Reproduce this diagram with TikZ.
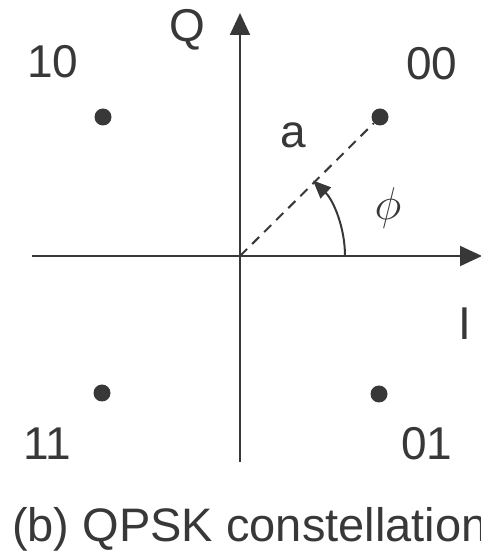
\RequirePackage{fix-cm}
\documentclass[tikz,border=0pt]{standalone}
\usepackage{fontspec}
\setmainfont{Liberation Sans}
\usetikzlibrary{arrows.meta}
\definecolor{ink}{HTML}{383838}
\tikzset{
  axis/.style={draw=ink, line width=2pt, -{Triangle[length=22pt,width=20pt]}},
  dot/.style={circle, fill=ink, inner sep=0pt, minimum size=17pt},
  lbl/.style={text=ink, inner sep=0pt, font=\fontsize{46}{50}\selectfont},
  radius line/.style={draw=ink, line width=2pt, dash pattern=on 10pt off 7pt},
  angle arrow/.style={draw=ink, line width=2pt, -{Triangle[length=18pt,width=15pt]}}
}
\begin{document}
\begin{tikzpicture}[x=1pt,y=1pt]
\useasboundingbox (0,0) rectangle (480,555);
% axes
\coordinate (O) at (240,299);
\coordinate (qbot) at (240,93);
\coordinate (qtop) at (240,542);
\coordinate (ileft) at (32,299);
\coordinate (iright) at (482,299);
\draw[axis] (qbot) -- (qtop);
\draw[axis] (ileft) -- (iright);
% constellation points
\node[dot] (d00) at (380,438) {};
\node[dot] (d10) at (103,438) {};
\node[dot] (d11) at (102,162) {};
\node[dot] (d01) at (379,161) {};
% radius and angle
\draw[radius line] (O) -- (d00);
\coordinate (arcstart) at (345,299);
\draw[angle arrow] (arcstart) arc[start angle=0, end angle=46, radius=105];
% labels
\node[lbl, anchor=base] (l10) at (53,477) {10};
\node[lbl, anchor=base] (l00) at (432,475) {00};
\node[lbl, anchor=base] (lQ) at (187,513) {Q};
\node[lbl, anchor=base] (la) at (293,407) {a};
\node[lbl, anchor=center] (lphi) at (388,347) {$\phi$};
\node[lbl, anchor=base] (lI) at (465,215) {I};
\node[lbl, anchor=base] (l11) at (47,95) {11};
\node[lbl, anchor=base] (l01) at (427,95) {01};
\node[lbl, anchor=base west, font=\fontsize{47}{50}\selectfont] (cap) at (12,13) {(b) QPSK constellation};
\end{tikzpicture}
\end{document}
